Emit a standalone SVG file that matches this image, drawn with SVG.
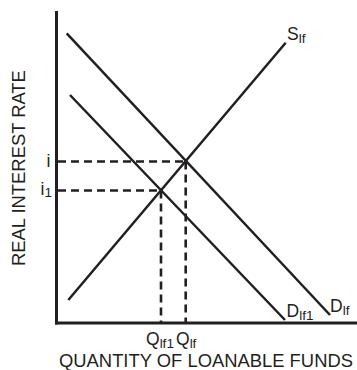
<svg xmlns="http://www.w3.org/2000/svg" width="357" height="370" viewBox="0 0 357 370">
<style>
.ax{stroke:#231f20;stroke-width:3;fill:none}
.cv{stroke:#231f20;stroke-width:2.5;fill:none;stroke-linecap:butt}
.dash{stroke:#231f20;stroke-width:2.6;fill:none;stroke-dasharray:8 5}
text{font-family:"Liberation Sans",Arial,sans-serif;fill:#231f20}
.t{font-size:18.4px}
.m{font-size:17.5px}
.s{font-size:13.5px}
</style>
<rect width="357" height="370" fill="#fff"/>
<g id="axes">
<line class="ax" x1="56.5" y1="11" x2="56.5" y2="324.5"/>
<line class="ax" x1="55" y1="323" x2="357" y2="323"/>
</g>
<g id="connectors">
<line class="dash" x1="58" y1="161.5" x2="185.7" y2="161.5"/>
<line class="dash" x1="58" y1="190.5" x2="161" y2="190.5"/>
<line class="dash" x1="161" y1="190.5" x2="161" y2="322"/>
<line class="dash" x1="185.7" y1="161.5" x2="185.7" y2="322"/>
</g>
<g id="supply">
<line class="cv" x1="68.3" y1="300" x2="285.7" y2="42.7"/>
<text class="m" x="287" y="39.5">S<tspan class="s" dy="3">lf</tspan></text>
</g>
<g id="demand">
<line class="cv" x1="66.7" y1="33.3" x2="330" y2="315"/>
<text class="m" x="330" y="311.5">D<tspan class="s" dy="3">lf</tspan></text>
</g>
<g id="demand1">
<line class="cv" x1="70" y1="95" x2="285" y2="320"/>
<text class="m" x="286.5" y="316.5">D<tspan class="s" dy="3">lf1</tspan></text>
</g>
<g id="labels">
<text class="m" x="46.5" y="166.5">i</text>
<text class="m" x="40.5" y="194.5">i<tspan class="s" dy="2.5">1</tspan></text>
<text class="m" x="146" y="344.5">Q<tspan class="s" dy="3">lf1</tspan></text>
<text class="m" x="176" y="344.5">Q<tspan class="s" dy="3">lf</tspan></text>
<text class="t" x="59" y="366.5">QUANTITY OF LOANABLE FUNDS</text>
<text class="t" transform="translate(25,266) rotate(-90)">REAL INTEREST RATE</text>
</g>
</svg>
